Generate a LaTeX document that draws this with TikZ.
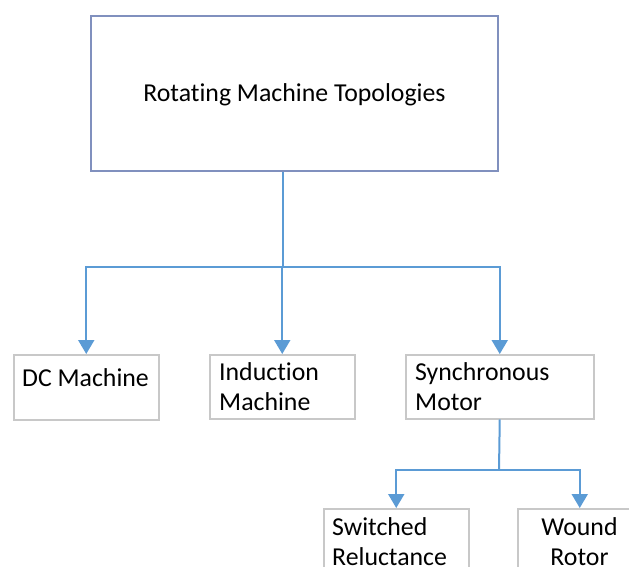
\documentclass[tikz,border=0pt]{standalone}
\usepackage{fontspec}
\setmainfont[Ligatures={NoCommon,NoRequired,NoContextual}]{Carlito}
\usetikzlibrary{arrows.meta}
\definecolor{conncol}{RGB}{91,155,213}
\definecolor{topb}{RGB}{128,144,190}
\definecolor{boxb}{RGB}{200,200,200}
\begin{document}
\begin{tikzpicture}[x=1pt,y=-1pt,
  conn/.style={draw=conncol, line width=2pt},
  arr/.style={conn, -{Triangle[width=16pt,length=14pt]}},
  topbox/.style={draw=topb, line width=1.6pt, minimum width=407pt, minimum height=155pt, anchor=north west, inner sep=0pt},
  box/.style={draw=boxb, line width=1.5pt, anchor=north west, inner sep=0pt},
  lbl/.style={font=\fontsize{25.8}{30}\selectfont, inner sep=0pt, align=left}]
\useasboundingbox (0,0) rectangle (629,567);
\clip (0,0) rectangle (629,567);
\node[topbox] (top) at (90,15) {};
\node[lbl, anchor=base] (topt) at (294.5,102) {Rotating Machine Topologies};
\node[box, minimum width=145pt, minimum height=65pt] (dc) at (13,354) {};
\node[box, minimum width=145pt, minimum height=64pt] (ind) at (209,354) {};
\node[box, minimum width=188pt, minimum height=64pt] (syn) at (405,354) {};
\node[box, minimum width=145pt, minimum height=80pt] (sw) at (323,508) {};
\node[box, minimum width=124pt, minimum height=80pt] (wr) at (517,508) {};
\node[lbl, anchor=base west] (dct) at (22,386.5) {DC Machine};
\node[lbl, anchor=base west] (indt) at (219,410) {Induction\\Machine};
\node[lbl, anchor=base west] (synt) at (415,410) {Synchronous\\Motor};
\node[lbl, anchor=base west] (swt) at (332,565) {Switched\\Reluctance};
\node[lbl, anchor=base, align=center] (wrt) at (579.5,565) {Wound\\Rotor};
\coordinate (j1) at (283,267);
\coordinate (j2) at (499,470);
\draw[conn] (top.south -| j1) -- (j1);
\draw[arr] (j1) -| (dc.north);
\draw[arr] (j1) -| (ind.north);
\draw[arr] (j1) -| (syn.north);
\draw[conn] (syn.south) -- (j2);
\draw[arr] (j2) -| (sw.north);
\draw[arr] (j2) -| (wr.north);
\end{tikzpicture}
\end{document}
